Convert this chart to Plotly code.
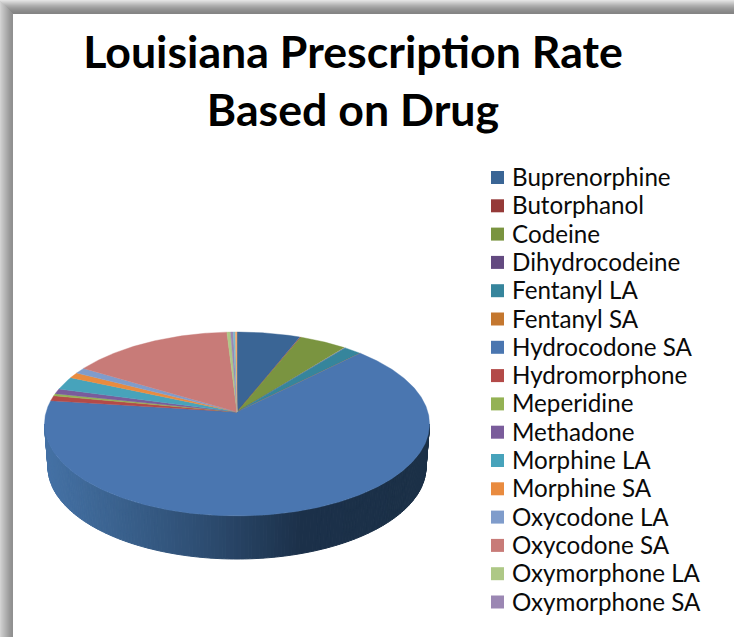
import math
import plotly.graph_objects as go

TITLE = "Louisiana Prescription Rate<br>Based on Drug"

# Slices, clockwise from twelve o'clock (share of prescriptions, %)
categories = ["Buprenorphine", "Butorphanol", "Codeine", "Dihydrocodeine", "Fentanyl LA",
              "Fentanyl SA", "Hydrocodone SA", "Hydromorphone", "Meperidine", "Methadone",
              "Morphine LA", "Morphine SA", "Oxycodone LA", "Oxycodone SA",
              "Oxymorphone LA", "Oxymorphone SA"]
values = [6.0, 0.1, 4.5, 0.1, 1.7, 0.02, 64.4, 0.9, 0.4, 0.9, 2.3, 1.0, 1.05, 15.4, 0.35, 0.25]
colors = ["#3a6595", "#953a38", "#7a9440", "#634a80", "#36859c", "#c4772f", "#4a76b0", "#b34a48",
          "#94b254", "#7a5c9b", "#47a3bb", "#e98b3f", "#7f9ccb", "#c87b78", "#aec886", "#9b87b3"]

# two further thin slices are visible in the pie but have no legend entry
unlabelled_values = [0.2, 0.15]
unlabelled_colors = ["#7bb9cb", "#f0a870"]

# picture geometry (pixels)
W, H = 734, 637
CX, APEX_Y = 237.0, 412.0
RX_P, RY_P, K = 190.9, 90.4, 0.13      # perspective disc
TOP_CY, TOP_RY, TOP_RX = 424.0, 92.0, 192.5
BOT_CY, BOT_RX = 467.0, 189.0
wall_stops = [(44, (0x45, 0x72, 0xa6)), (110, (0x3c, 0x64, 0x91)), (200, (0x2e, 0x4e, 0x73)),
              (300, (0x1c, 0x31, 0x4a)), (429, (0x1b, 0x30, 0x47))]
top_shade = [0xe2, 0xd8, 0xce, 0xc4, 0xba, 0xb0, 0xa8, 0xa0, 0x99, 0x93, 0x8e, 0x8a, 0x86, 0x84]
left_shade = [0xd2, 0xca, 0xc4, 0xbe, 0xb8, 0xb2, 0xac, 0xa6, 0xa0, 0x9a, 0x96, 0x92, 0x90]


def disc(theta):
    u, v = math.sin(theta), math.cos(theta)
    d = 1 + K * v
    return CX + RX_P * u / d, APEX_Y - RY_P * v / d


def wall_color(x):
    for (x0, c0), (x1, c1) in zip(wall_stops, wall_stops[1:]):
        if x <= x1:
            t = max(0.0, (x - x0) / (x1 - x0))
            return "rgb(%d,%d,%d)" % tuple(a + (b - a) * t for a, b in zip(c0, c1))
    return "rgb(27,48,71)"


fig = go.Figure()

# side wall
N = 160
for i in range(N):
    a0, a1 = math.pi * i / N, math.pi * (i + 1) / N
    xs = [CX + TOP_RX * math.cos(a0), CX + TOP_RX * math.cos(a1),
          CX + BOT_RX * math.cos(a1), CX + BOT_RX * math.cos(a0)]
    ys = [TOP_CY + TOP_RY * math.sin(a0), TOP_CY + TOP_RY * math.sin(a1),
          BOT_CY + TOP_RY * math.sin(a1), BOT_CY + TOP_RY * math.sin(a0)]
    c = wall_color(sum(xs) / 4)
    fig.add_trace(go.Scatter(x=xs + xs[:1], y=ys + ys[:1], mode="lines", fill="toself",
                             fillcolor=c, line=dict(color=c, width=1),
                             hoverinfo="skip", showlegend=False))

# top face
all_names = categories + ["(unlabelled)"] * len(unlabelled_values)
all_values = values + unlabelled_values
all_colors = colors + unlabelled_colors
total = sum(all_values)
cum = 0.0
for name, val, col in zip(all_names, all_values, all_colors):
    t0 = 2 * math.pi * cum / total
    cum += val
    t1 = 2 * math.pi * cum / total
    n = max(2, int((t1 - t0) / 0.01))
    pts = [disc(t0 + (t1 - t0) * j / n) for j in range(n + 1)]
    xs = [CX] + [p[0] for p in pts] + [CX]
    ys = [APEX_Y] + [p[1] for p in pts] + [APEX_Y]
    fig.add_trace(go.Scatter(x=xs, y=ys, mode="lines", fill="toself", fillcolor=col,
                             line=dict(color=col, width=0.4), name=name,
                             hovertemplate=f"{name}: {val}%<extra></extra>", showlegend=False))

# legend keys
for i, (name, col) in enumerate(zip(categories, colors)):
    y = 177.5 + 28.3 * i
    fig.add_trace(go.Scatter(x=[497.5], y=[y], mode="markers",
                             marker=dict(symbol="square", size=13, color=col), name=name,
                             hoverinfo="skip", showlegend=False))
    fig.add_annotation(x=513, y=y - 1, text=name, xanchor="left", yanchor="middle", showarrow=False,
                       xshift=-3, font=dict(family="Lato", size=24.2, color="#0a0a0a"))

# panel shadow
shapes = []
for i, s in enumerate(left_shade):
    c = f"rgb({s},{s},{s})"
    shapes.append(dict(type="rect", x0=i, x1=i + 1, y0=i, y1=H, fillcolor=c, line_width=0, layer="below"))
for i, s in enumerate(top_shade):
    c = f"rgb({s},{s},{s})"
    shapes.append(dict(type="rect", x0=i, x1=W, y0=i, y1=i + 1, fillcolor=c, line_width=0, layer="below"))

fig.update_layout(
    width=W, height=H, autosize=False, margin=dict(l=0, r=0, t=0, b=0),
    paper_bgcolor="white", plot_bgcolor="rgba(0,0,0,0)", showlegend=False, shapes=shapes,
    xaxis=dict(range=[0, W], visible=False, fixedrange=True),
    yaxis=dict(range=[H, 0], visible=False, fixedrange=True),
    title=dict(text=TITLE, x=353 / W, xanchor="center", y=1 - 67.5 / H, yanchor="top",
               font=dict(family="Lato", size=44.7, color="black", weight="bold")),
)
fig.write_html("out.html", config={"displayModeBar": False},
               post_script="document.body.style.margin='0';document.body.style.overflow='hidden';")
